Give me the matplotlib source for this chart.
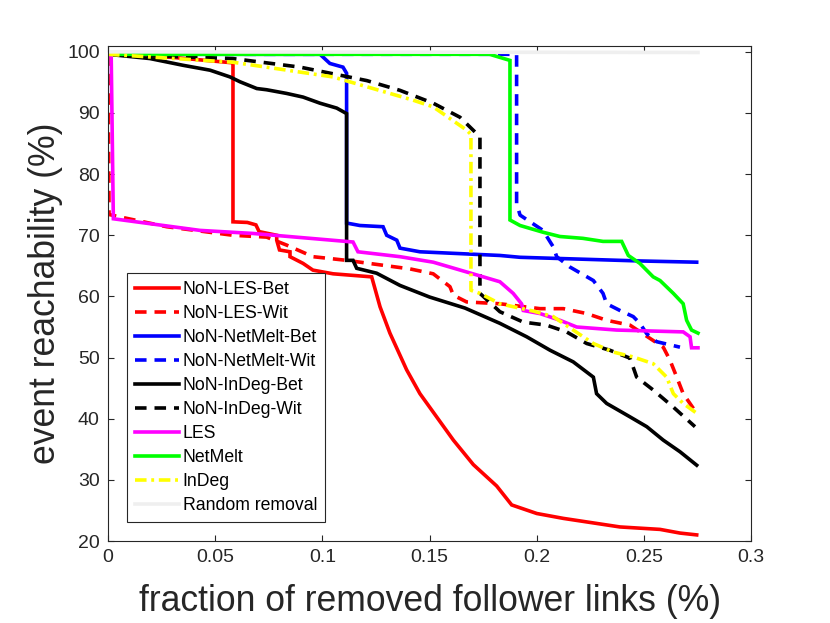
import matplotlib
matplotlib.use("Agg")
import matplotlib.pyplot as plt

plt.rcParams['font.family'] = ['Liberation Sans', 'DejaVu Sans']

# ---- data ----
les_bet_x = [0, 0.03, 0.0583, 0.0583, 0.065, 0.069, 0.0705, 0.0787, 0.0787, 0.080, 0.0849, 0.0849,
             0.091, 0.0956, 0.105, 0.123, 0.1269, 0.1315, 0.1393, 0.1455, 0.1533, 0.1611, 0.1704,
             0.1813, 0.1883, 0.200, 0.2124, 0.2388, 0.2575, 0.2668, 0.2746]
les_bet_y = [99.6, 99.1, 98.2, 72.2, 72.1, 71.7, 70.6, 70.0, 69.2, 67.6, 67.3, 66.5,
             65.4, 64.3, 63.7, 63.2, 58.3, 54.0, 48.0, 44.1, 40.3, 36.5, 32.5,
             29.0, 25.9, 24.5, 23.7, 22.3, 21.9, 21.3, 21.0]

les_wit_x = [0, 0.0005, 0.0056, 0.0274, 0.0583, 0.074, 0.0833, 0.0956, 0.1113, 0.1409, 0.1517,
             0.1595, 0.1611, 0.1673, 0.1828, 0.2015, 0.2124, 0.2233, 0.2326, 0.2435, 0.259,
             0.2621, 0.2653, 0.2683, 0.2746]
les_wit_y = [99.6, 73.4, 73.0, 71.4, 70.0, 69.7, 68.4, 66.5, 65.9, 64.5, 63.7,
             61.6, 60.2, 59.1, 58.8, 58.0, 58.0, 57.2, 56.1, 55.3, 51.7,
             49.6, 46.8, 44.1, 40.9]

nm_bet_x = [0, 0.0989, 0.1035, 0.1096, 0.1113, 0.1113, 0.1175, 0.1283, 0.130, 0.1347, 0.1362,
            0.1455, 0.1828, 0.1922, 0.2481, 0.2746]
nm_bet_y = [99.6, 99.6, 98.1, 97.5, 96.5, 72.0, 71.6, 71.4, 70.0, 69.2, 67.9,
            67.3, 66.7, 66.4, 65.8, 65.6]

nm_wit_x = [0, 0.1906, 0.1906, 0.1922, 0.2029, 0.2077, 0.2093, 0.2155, 0.2264, 0.2309, 0.2326,
            0.2388, 0.245, 0.2481, 0.2513, 0.2559, 0.2668]
nm_wit_y = [99.6, 99.6, 75.2, 73.3, 70.8, 68.1, 66.5, 64.8, 62.6, 60.5, 58.8,
            57.7, 56.7, 55.6, 53.9, 52.6, 51.7]

id_bet_x = [0, 0.0196, 0.035, 0.0476, 0.0569, 0.0616, 0.0694, 0.074, 0.0833, 0.091, 0.0989,
            0.1067, 0.1113, 0.1113, 0.1143, 0.116, 0.1253, 0.1362, 0.150, 0.1665, 0.1828,
            0.1953, 0.2062, 0.217, 0.2264, 0.2279, 0.2326, 0.2435, 0.2513, 0.259, 0.2668, 0.2746]
id_bet_y = [99.6, 98.9, 97.8, 97.0, 95.9, 95.1, 94.0, 93.8, 93.2, 92.6, 91.6,
            90.8, 89.9, 65.9, 65.9, 64.6, 63.8, 61.8, 59.9, 58.1, 55.6,
            53.4, 51.2, 49.3, 46.8, 44.1, 42.5, 40.3, 38.7, 36.5, 34.6, 32.4]

id_wit_x = [0, 0.0583, 0.0896, 0.1207, 0.1362, 0.1517, 0.1642, 0.1735, 0.1735, 0.1828, 0.1937,
            0.2046, 0.2139, 0.2233, 0.2341, 0.2435, 0.2466, 0.2543, 0.2637, 0.2738]
id_wit_y = [99.6, 98.9, 97.5, 95.3, 93.7, 91.6, 89.3, 86.1, 60.5, 57.5, 55.8,
            55.3, 54.2, 52.3, 51.2, 49.9, 46.8, 44.7, 41.9, 38.7]

les_x = [0, 0.0015, 0.0025, 0.0429, 0.0676, 0.1143, 0.1166, 0.1362, 0.1517, 0.1673, 0.1828,
         0.189, 0.1929, 0.1937, 0.2015, 0.2108, 0.2186, 0.2373, 0.2683, 0.2715, 0.2722, 0.2752]
les_y = [99.6, 99.3, 72.7, 70.8, 70.3, 68.9, 67.3, 66.5, 65.6, 64.0, 62.4,
         60.5, 58.8, 57.7, 57.2, 56.1, 55.0, 54.5, 54.2, 53.4, 51.6, 51.6]

netmelt_x = [0, 0.178, 0.1875, 0.1875, 0.1922, 0.2029, 0.2108, 0.2215, 0.2309, 0.2396, 0.2427,
             0.2481, 0.2543, 0.2575, 0.2637, 0.2683, 0.2699, 0.2722, 0.2752]
netmelt_y = [99.6, 99.6, 98.6, 72.5, 71.6, 70.5, 69.8, 69.5, 69.0, 69.0, 66.7,
             65.4, 63.2, 62.6, 60.5, 58.8, 56.1, 54.5, 54.0]

indeg_x = [0, 0.0583, 0.1049, 0.1423, 0.1517, 0.1673, 0.1693, 0.1693, 0.1735, 0.1828, 0.1984,
           0.2077, 0.217, 0.2264, 0.2357, 0.245, 0.2543, 0.2606, 0.2637, 0.2683, 0.2746]
indeg_y = [99.6, 98.3, 95.9, 92.1, 91.0, 87.2, 86.5, 61.0, 60.5, 58.8, 57.6,
           56.7, 54.5, 52.3, 50.9, 50.1, 49.0, 46.8, 44.1, 42.5, 40.9]

rand_x = [0, 0.2752]
rand_y = [100.0, 99.9]

labels = ['NoN-LES-Bet', 'NoN-LES-Wit', 'NoN-NetMelt-Bet', 'NoN-NetMelt-Wit',
          'NoN-InDeg-Bet', 'NoN-InDeg-Wit', 'LES', 'NetMelt', 'InDeg', 'Random removal']
xticks = [0, 0.05, 0.1, 0.15, 0.2, 0.25, 0.3]
xticklabels = ['0', '0.05', '0.1', '0.15', '0.2', '0.25', '0.3']
yticks = [20, 30, 40, 50, 60, 70, 80, 90, 100]

# ---- plot ----
fig = plt.figure(figsize=(8.3, 6.23), dpi=100)
ax = fig.add_axes([0.1301, 0.1316, 0.905 - 0.1301, 0.9266 - 0.1316])

lw = 2.6
dash = (3.2, 2.2)
series = [
    (les_bet_x, les_bet_y, '#FF0000', '-'),
    (les_wit_x, les_wit_y, '#FF0000', '--'),
    (nm_bet_x, nm_bet_y, '#0000FF', '-'),
    (nm_wit_x, nm_wit_y, '#0000FF', '--'),
    (id_bet_x, id_bet_y, '#000000', '-'),
    (id_wit_x, id_wit_y, '#000000', '--'),
    (les_x, les_y, '#FF00FF', '-'),
    (netmelt_x, netmelt_y, '#00FF00', '-'),
    (indeg_x, indeg_y, '#FFFF00', '-.'),
    (rand_x, rand_y, '#EFEFEF', '-'),
]
for (xs, ys, c, ls), lab in zip(series, labels):
    line, = ax.plot(xs, ys, color=c, lw=lw, label=lab, solid_joinstyle='miter')
    if ls == '--':
        line.set_dashes(dash)
    elif ls == '-.':
        line.set_dashes((3.2, 1.3, 0.8, 1.3))

ax.set_xlim(0, 0.3)
ax.set_ylim(20, 101)
ax.set_xticks(xticks)
ax.set_xticklabels(xticklabels)
ax.set_yticks(yticks)

tc = '#262626'
for s in ax.spines.values():
    s.set_color(tc)
    s.set_linewidth(0.8)
ax.tick_params(direction='in', length=4.6, width=0.8, colors=tc, labelsize=14,
               top=True, right=True, pad=6)

ax.set_xlabel('fraction of removed follower links (%)', fontsize=25.6, color=tc, labelpad=12.5)
ax.set_ylabel('event reachability (%)', fontsize=25.6, color=tc, labelpad=3)

leg = ax.legend(loc='lower left', bbox_to_anchor=(0.029, 0.038), fontsize=12.7,
                handlelength=2.5, handletextpad=0.22, labelspacing=0.40,
                borderpad=0.45, borderaxespad=0, fancybox=False, framealpha=1,
                edgecolor=tc)
leg.get_frame().set_linewidth(0.8)
for t in leg.get_texts():
    t.set_color('#000000')

fig.savefig('out.png', dpi=100)
